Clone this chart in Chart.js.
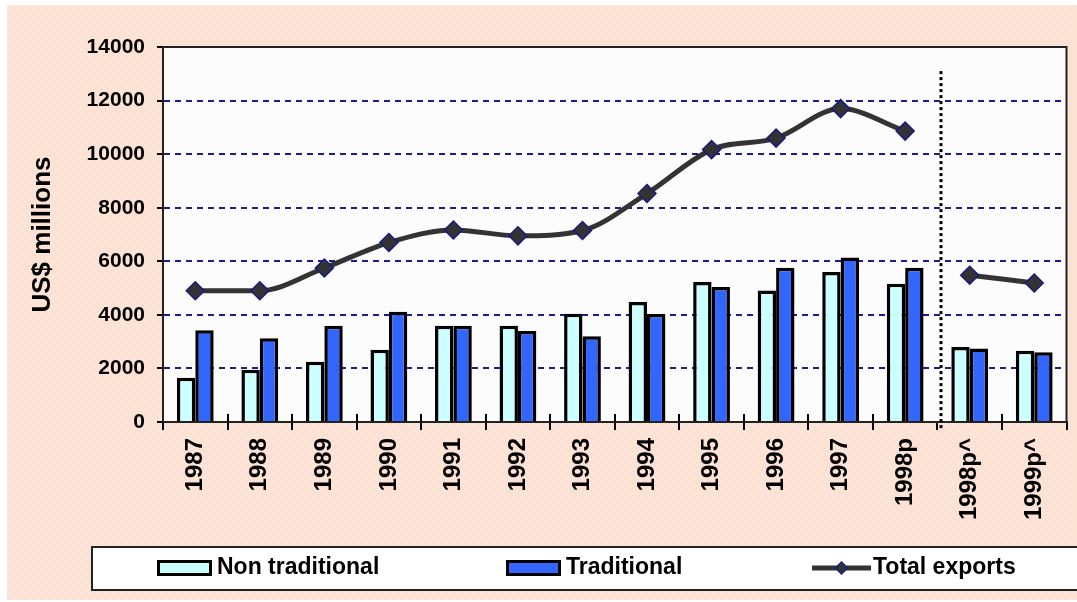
<!DOCTYPE html>
<html lang="en">
<head>
<meta charset="UTF-8">
<title>Exports</title>
<script src="https://cdn.jsdelivr.net/npm/chart.js"></script>
<style>
  html, body { margin: 0; padding: 0; background: #fff; }
</style>
</head>
<body>
<canvas id="myChart" width="1077" height="602"></canvas>
<script>
// data (US$ millions)
const years = ['1987', '1988', '1989', '1990', '1991', '1992', '1993', '1994', '1995', '1996', '1997', '1998p', '1998p^', '1999p^'];
const nonTraditional = [1650, 1950, 2250, 2700, 3590, 3590, 4040, 4480, 5230, 4910, 5600, 5160, 2800, 2660];
const traditional = [3430, 3130, 3590, 4120, 3590, 3400, 3200, 4030, 5040, 5760, 6140, 5760, 2740, 2600];
const totalExports = [4900, 4900, 5750, 6700, 7170, 6950, 7150, 8530, 10170, 10600, 11700, 10860, 5480, 5190];
const yTicks = [0, 2000, 4000, 6000, 8000, 10000, 12000, 14000];
const projectionStart = 12; // first category right of the dotted line

const family = '"Liberation Sans", Arial, Helvetica, sans-serif';

// total line is broken in two at the dotted line
const totalActual = totalExports.map((v, i) => i < projectionStart ? v : null);
const totalProjected = totalExports.map((v, i) => i >= projectionStart ? v : null);

const lineStyle = {
  type: 'line',
  borderColor: '#333333',
  borderWidth: 5,
  pointStyle: 'rectRot',
  pointRadius: 9,
  pointBackgroundColor: '#333333',
  pointBorderColor: '#1a1a80',
  pointBorderWidth: 1.5,
  spanGaps: false,
  order: 0
};

// peach dotted page + white plot area
const background = {
  id: 'background',
  beforeDraw(chart) {
    const ctx = chart.ctx;
    const a = chart.chartArea;
    ctx.save();
    ctx.fillStyle = '#ffffff';
    ctx.fillRect(0, 0, chart.width, chart.height);
    const tile = document.createElement('canvas');
    tile.width = 8; tile.height = 8;
    const t = tile.getContext('2d');
    t.fillStyle = '#fce2d4';
    t.fillRect(0, 0, 8, 8);
    t.fillStyle = '#fff3ec';
    t.fillRect(1, 1, 1, 1);
    t.fillRect(5, 5, 1, 1);
    ctx.fillStyle = ctx.createPattern(tile, 'repeat');
    ctx.fillRect(7, 5, chart.width - 7, chart.height - 7);
    ctx.fillStyle = '#fcfcfc';
    ctx.fillRect(a.left, a.top, a.right - a.left, a.bottom - a.top);
    ctx.restore();
  }
};

// plot frame, dotted separator, tick marks above the axis, and the boxed legend
const extras = {
  id: 'extras',
  afterDraw(chart) {
    const ctx = chart.ctx;
    const a = chart.chartArea;
    const xs = chart.scales.x;
    const ys = chart.scales.y;
    const step = xs.getPixelForValue(1) - xs.getPixelForValue(0);
    ctx.save();

    ctx.strokeStyle = '#222';
    ctx.lineWidth = 2;
    ctx.strokeRect(a.left, a.top, a.right - a.left, a.bottom - a.top);

    ctx.strokeStyle = '#000';
    ctx.lineWidth = 2;
    for (let i = 1; i < years.length; i++) {
      if (i === projectionStart) continue;
      const x = Math.round(xs.getPixelForValue(i) - step / 2);
      ctx.beginPath();
      ctx.moveTo(x, a.bottom - 8);
      ctx.lineTo(x, a.bottom);
      ctx.stroke();
    }

    const sx = Math.round(xs.getPixelForValue(projectionStart) - step / 2) + 4;
    ctx.lineWidth = 3;
    ctx.setLineDash([3, 3]);
    ctx.beginPath();
    ctx.moveTo(sx, ys.getPixelForValue(13100));
    ctx.lineTo(sx, a.bottom + 8);
    ctx.stroke();
    ctx.setLineDash([]);

    // legend
    ctx.fillStyle = '#ffffff';
    ctx.fillRect(92, 547, 1000, 43);
    ctx.strokeStyle = '#222';
    ctx.lineWidth = 2;
    ctx.strokeRect(92, 547, 1000, 43);

    const itemX = [157, 506, 812];
    const midY = 568;
    ctx.font = 'bold 23px ' + family;
    ctx.textBaseline = 'middle';
    ctx.textAlign = 'left';
    chart.data.datasets.filter(ds => !ds.hideInLegend).forEach((ds, k) => {
      const x = itemX[k];
      if (ds.type === 'line') {
        ctx.strokeStyle = ds.borderColor;
        ctx.lineWidth = 5;
        ctx.beginPath();
        ctx.moveTo(x, midY);
        ctx.lineTo(x + 59, midY);
        ctx.stroke();
        ctx.beginPath();
        ctx.moveTo(x + 29.5, midY - 6);
        ctx.lineTo(x + 35.5, midY);
        ctx.lineTo(x + 29.5, midY + 6);
        ctx.lineTo(x + 23.5, midY);
        ctx.closePath();
        ctx.fillStyle = ds.pointBackgroundColor;
        ctx.fill();
        ctx.strokeStyle = ds.pointBorderColor;
        ctx.lineWidth = 1.5;
        ctx.stroke();
        ctx.fillStyle = '#000';
        ctx.fillText(ds.label, x + 61, midY);
      } else {
        ctx.fillStyle = ds.backgroundColor;
        ctx.fillRect(x, midY - 8, 55, 16);
        ctx.strokeStyle = '#000';
        ctx.lineWidth = 3;
        ctx.strokeRect(x + 1.5, midY - 6.5, 52, 13);
        ctx.fillStyle = '#000';
        ctx.fillText(ds.label, x + 60, midY);
      }
    });
    ctx.restore();
  }
};

const ctx = document.getElementById('myChart');
const myChart = new Chart(ctx, {
  type: 'bar',
  data: {
    labels: years,
    datasets: [
      {
        label: 'Non traditional',
        data: nonTraditional,
        backgroundColor: '#ccffff',
        borderColor: '#000000',
        borderWidth: 3.5,
        order: 1
      },
      {
        label: 'Traditional',
        data: traditional,
        backgroundColor: '#3366ff',
        borderColor: '#000000',
        borderWidth: 3.5,
        order: 1
      },
      Object.assign({ label: 'Total exports', data: totalActual, cubicInterpolationMode: 'monotone' }, lineStyle),
      Object.assign({ label: 'Total exports', data: totalProjected, hideInLegend: true, tension: 0.4 }, lineStyle)
    ]
  },
  options: {
    responsive: false,
    animation: false,
    devicePixelRatio: 1,
    categoryPercentage: 0.57,
    barPercentage: 1,
    layout: { padding: { top: 47, right: 10, bottom: 80, left: 0 } },
    plugins: {
      legend: { display: false },
      tooltip: { enabled: false }
    },
    scales: {
      x: {
        grid: { offset: true, drawOnChartArea: false, color: '#000', lineWidth: 2, tickLength: 8 },
        border: { color: '#000', width: 2 },
        ticks: {
          minRotation: 90,
          maxRotation: 90,
          autoSkip: false,
          padding: 8,
          color: '#000',
          font: { family: family, size: 24, weight: 'bold' }
        },
        afterFit: s => { s.height = 100; }
      },
      y: {
        min: 0,
        max: 14000,
        afterBuildTicks: s => { s.ticks = yTicks.map(v => ({ value: v })); },
        grid: {
          color: '#1c1c8f',
          lineWidth: 2,
          tickLength: 6,
          tickColor: '#000',
          tickWidth: 2,
          tickBorderDash: []
        },
        border: { color: '#000', width: 2, dash: [6, 5] },
        ticks: {
          padding: 12,
          color: '#000',
          font: { family: family, size: 21, weight: 'bold' },
          callback: v => String(v)
        },
        title: {
          display: true,
          text: 'US$ millions',
          color: '#000',
          font: { family: family, size: 26, weight: 'bold' },
          padding: { top: 27, bottom: 0 }
        },
        afterFit: s => { s.width = 163; }
      }
    }
  },
  plugins: [background, extras]
});
</script>
</body>
</html>
